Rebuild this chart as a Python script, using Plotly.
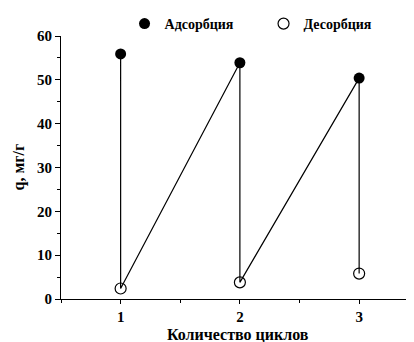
import plotly.graph_objects as go

cycles = [1, 2, 3]
adsorption = [55.9, 53.9, 50.4]
desorption = [2.4, 3.8, 5.8]

path_x, path_y = [], []
for c, a, d in zip(cycles, adsorption, desorption):
    path_x += [c, c]
    path_y += [a, d]

font = dict(family="Liberation Serif", size=15, color="black")

fig = go.Figure()
fig.add_trace(go.Scatter(x=path_x, y=path_y, mode="lines",
                         line=dict(color="black", width=1.2), showlegend=False, hoverinfo="skip"))
fig.add_trace(go.Scatter(x=cycles, y=adsorption, mode="markers", name="<b>Адсорбция</b>",
                         marker=dict(symbol="circle", size=11, color="black")))
fig.add_trace(go.Scatter(x=cycles, y=desorption, mode="markers", name="<b>Десорбция</b>",
                         marker=dict(symbol="circle-open", size=11, color="black", line=dict(width=1.2))))

fig.update_layout(
    width=406, height=334,
    margin=dict(l=53, r=0, t=27, b=43),
    plot_bgcolor="white", paper_bgcolor="white",
    font=font,
    legend=dict(orientation="h", x=0.18, y=1.0 + 12 / 264, xanchor="left", yanchor="middle",
                font=dict(family="Liberation Serif", size=14, color="black"),
                entrywidth=94, entrywidthmode="pixels", bgcolor="rgba(0,0,0,0)",
                itemclick=False),
    xaxis=dict(range=[0.5, 3.46], tickvals=cycles, ticktext=["<b>1</b>", "<b>2</b>", "<b>3</b>"],
               showline=True, linecolor="black", linewidth=1, ticks="outside", ticklen=4,
               tickcolor="black", showgrid=False, zeroline=False, automargin=False,
               minor=dict(ticks="outside", ticklen=3, tickcolor="black", dtick=0.5, showgrid=False)),
    yaxis=dict(range=[0, 60], tickvals=[0, 10, 20, 30, 40, 50, 60],
               ticktext=["<b>%d</b>" % v for v in [0, 10, 20, 30, 40, 50, 60]],
               showline=True, linecolor="black", linewidth=1, ticks="outside", ticklen=5,
               tickcolor="black", showgrid=False, zeroline=False, automargin=False,
               minor=dict(ticks="outside", ticklen=3, tickcolor="black", dtick=5, showgrid=False)),
    annotations=[
        dict(text="<b>Количество циклов</b>", xref="paper", yref="paper", x=0.5, y=-36 / 264,
             xanchor="center", yanchor="middle", showarrow=False, font=dict(size=16)),
        dict(text="<b>q, мг/г</b>", xref="paper", yref="paper", x=-43 / 353, y=0.5,
             xanchor="center", yanchor="middle", showarrow=False, textangle=-90, font=dict(size=16)),
    ],
)
fig.write_html("out.html")
